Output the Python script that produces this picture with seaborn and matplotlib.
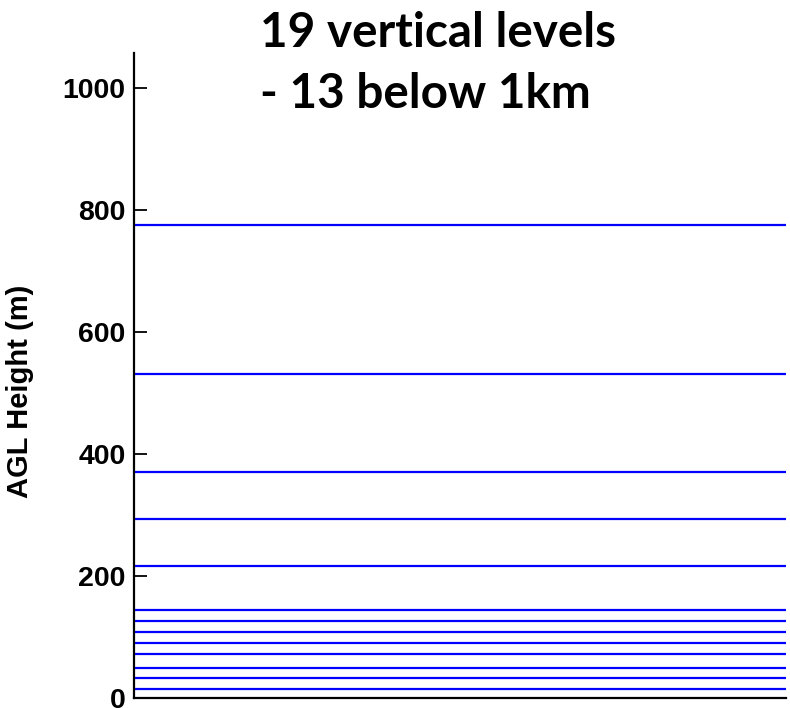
import matplotlib
matplotlib.use("Agg")
import matplotlib.pyplot as plt
import seaborn as sns
import pandas as pd

# Model level heights above ground (m) that lie below 1 km
level_heights = [14, 32, 50, 72, 90, 108, 127, 145, 217, 294, 371, 531, 775]
y_ticks = [0, 200, 400, 600, 800, 1000]
title_lines = ["19 vertical levels", "- 13 below 1km"]
y_label = "AGL Height (m)"

sns.set_theme(style="ticks")
plt.rcParams["font.family"] = ["Liberation Sans", "DejaVu Sans"]
plt.rcParams["text.color"] = "black"
plt.rcParams["axes.labelcolor"] = "black"

# each level becomes a horizontal segment spanning the full x range
rows = []
for i, h in enumerate(level_heights):
    rows.append({"level": i, "x": 0.0, "height": h})
    rows.append({"level": i, "x": 1.0, "height": h})
df = pd.DataFrame(rows)

W, H = 790, 708
fig = plt.figure(figsize=(W / 100, H / 100), dpi=100)
ax = fig.add_axes([134 / W, 10 / H, 652 / W, 645.3 / H])

sns.lineplot(data=df, x="x", y="height", units="level", estimator=None,
             color="#0000ff", linewidth=1.6, ax=ax, legend=False)

ax.set_xlim(0, 1)
ax.set_ylim(0, 1058)
ax.set_xticks([])
ax.set_yticks(y_ticks)
ax.set_yticklabels([str(t) for t in y_ticks], fontsize=20.5, fontweight="bold")
ax.tick_params(axis="y", direction="in", length=9, width=1.3, pad=6, colors="black")
ax.set_xlabel("")
ax.set_ylabel(y_label, fontsize=21, fontweight="bold", color="black")
ax.yaxis.set_label_coords(-0.153, 0.475)

for side in ("top", "right"):
    ax.spines[side].set_visible(False)
for side in ("left", "bottom"):
    ax.spines[side].set_linewidth(1.6)
    ax.spines[side].set_color("black")

fig.text(260 / W, 1 - 47 / H, title_lines[0], fontsize=34.3, fontweight="bold",
         color="black", family=["Lato", "DejaVu Sans"], ha="left", va="baseline")
fig.text(260 / W, 1 - 108 / H, title_lines[1], fontsize=34.3, fontweight="bold",
         color="black", family=["Lato", "DejaVu Sans"], ha="left", va="baseline")

fig.savefig("out.png", dpi=100)
